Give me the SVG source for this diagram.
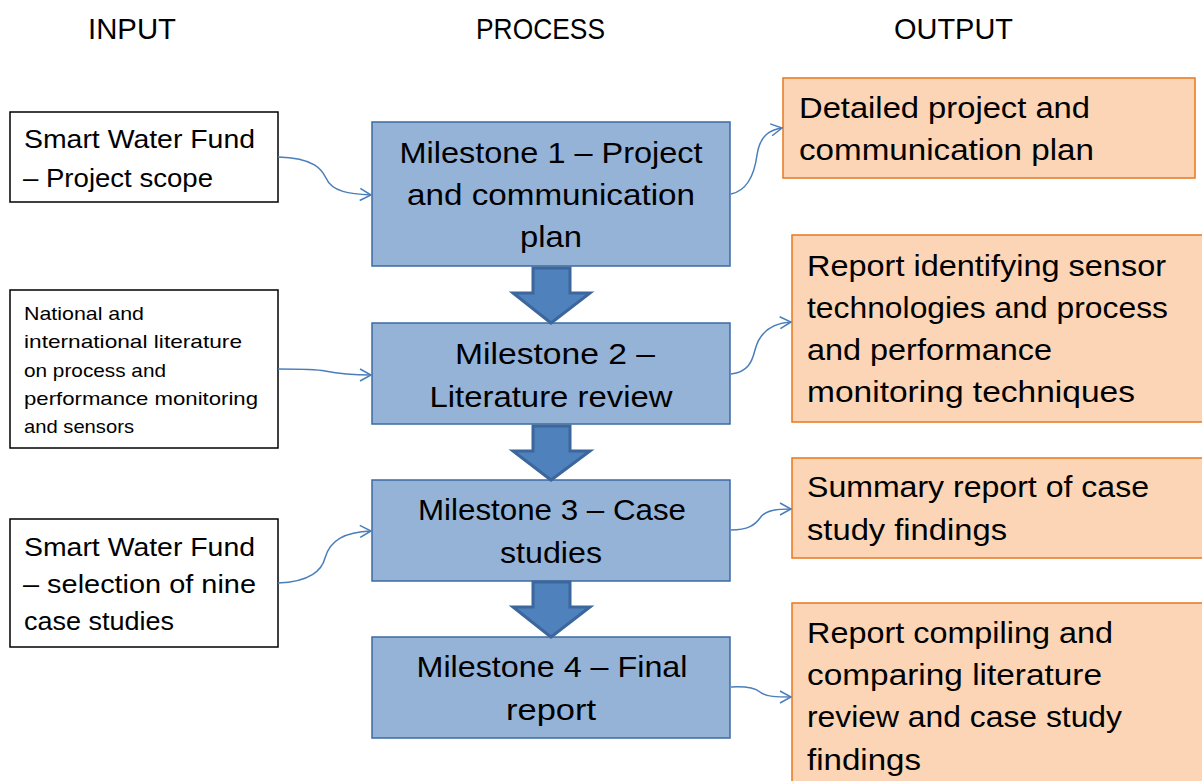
<svg xmlns="http://www.w3.org/2000/svg" width="1202" height="781" viewBox="0 0 1202 781">
  <style>
    text { font-family: "Liberation Sans", Arial, sans-serif; fill: #000; }
    .hdr { font-size: 29px; }
    .in { fill: #fff; stroke: #000; stroke-width: 1.5; }
    .in-t { font-size: 26px; }
    .in-s { font-size: 19px; }
    .ms { fill: #95b3d7; stroke: #3d6ba3; stroke-width: 1.5; }
    .ms-t { font-size: 30px; text-anchor: middle; }
    .out { fill: #fbd5b5; stroke: #e8781e; stroke-width: 1.5; }
    .out-t { font-size: 30px; }
    .flow { fill: #4f81bd; stroke: #3c679c; stroke-width: 3; stroke-linejoin: miter; }
    .link { fill: none; stroke: #4a7ebb; stroke-width: 1.5; marker-end: url(#open); }
  </style>
  <defs>
    <marker id="open" markerWidth="14" markerHeight="14" refX="12" refY="7" orient="auto" markerUnits="userSpaceOnUse">
      <path d="M1,1 L12,7 L1,13" fill="none" stroke="#4a7ebb" stroke-width="1.5"/>
    </marker>
  </defs>
  <rect width="1202" height="781" fill="#fff"/>

  <!-- column headings -->
  <g id="headings">
    <text class="hdr" x="88" y="39" textLength="88" lengthAdjust="spacingAndGlyphs">INPUT</text>
    <text class="hdr" x="476" y="39" textLength="129" lengthAdjust="spacingAndGlyphs">PROCESS</text>
    <text class="hdr" x="894" y="39" textLength="119" lengthAdjust="spacingAndGlyphs">OUTPUT</text>
  </g>

  <!-- inputs -->
  <g id="input-scope">
    <rect class="in" x="10" y="112" width="268" height="90"/>
    <text class="in-t" x="24" y="148" textLength="231" lengthAdjust="spacingAndGlyphs">Smart Water Fund</text>
    <text class="in-t" x="23" y="187" textLength="190" lengthAdjust="spacingAndGlyphs">– Project scope</text>
  </g>
  <g id="input-literature">
    <rect class="in" x="10" y="290" width="268" height="158"/>
    <text class="in-s" x="24" y="320" textLength="120" lengthAdjust="spacingAndGlyphs">National and</text>
    <text class="in-s" x="24" y="348" textLength="218" lengthAdjust="spacingAndGlyphs">international literature</text>
    <text class="in-s" x="24" y="377" textLength="142" lengthAdjust="spacingAndGlyphs">on process and</text>
    <text class="in-s" x="24" y="405" textLength="234" lengthAdjust="spacingAndGlyphs">performance monitoring</text>
    <text class="in-s" x="24" y="433" textLength="110" lengthAdjust="spacingAndGlyphs">and sensors</text>
  </g>
  <g id="input-cases">
    <rect class="in" x="10" y="519" width="268" height="128"/>
    <text class="in-t" x="24" y="556" textLength="231" lengthAdjust="spacingAndGlyphs">Smart Water Fund</text>
    <text class="in-t" x="23" y="593" textLength="233" lengthAdjust="spacingAndGlyphs">– selection of nine</text>
    <text class="in-t" x="24" y="630" textLength="150" lengthAdjust="spacingAndGlyphs">case studies</text>
  </g>

  <!-- milestones -->
  <g id="milestone-1">
    <rect class="ms" x="372" y="122" width="358" height="144"/>
    <text class="ms-t" x="551" y="163" textLength="303" lengthAdjust="spacingAndGlyphs">Milestone 1 – Project</text>
    <text class="ms-t" x="551" y="205" textLength="288" lengthAdjust="spacingAndGlyphs">and communication</text>
    <text class="ms-t" x="551" y="247" textLength="62" lengthAdjust="spacingAndGlyphs">plan</text>
  </g>
  <g id="milestone-2">
    <rect class="ms" x="372" y="323" width="358" height="101"/>
    <text class="ms-t" x="555" y="364" textLength="200" lengthAdjust="spacingAndGlyphs">Milestone 2 –</text>
    <text class="ms-t" x="551" y="407" textLength="243" lengthAdjust="spacingAndGlyphs">Literature review</text>
  </g>
  <g id="milestone-3">
    <rect class="ms" x="372" y="480" width="358" height="101"/>
    <text class="ms-t" x="552" y="520" textLength="268" lengthAdjust="spacingAndGlyphs">Milestone 3 – Case</text>
    <text class="ms-t" x="551" y="563" textLength="102" lengthAdjust="spacingAndGlyphs">studies</text>
  </g>
  <g id="milestone-4">
    <rect class="ms" x="372" y="637" width="358" height="101"/>
    <text class="ms-t" x="552" y="677" textLength="271" lengthAdjust="spacingAndGlyphs">Milestone 4 – Final</text>
    <text class="ms-t" x="551" y="720" textLength="90" lengthAdjust="spacingAndGlyphs">report</text>
  </g>

  <!-- outputs -->
  <g id="output-plan">
    <rect class="out" x="783" y="78" width="412" height="100"/>
    <text class="out-t" x="799" y="118" textLength="291" lengthAdjust="spacingAndGlyphs">Detailed project and</text>
    <text class="out-t" x="799" y="160" textLength="295" lengthAdjust="spacingAndGlyphs">communication plan</text>
  </g>
  <g id="output-sensors">
    <rect class="out" x="792" y="235" width="420" height="187"/>
    <text class="out-t" x="807" y="276" textLength="359" lengthAdjust="spacingAndGlyphs">Report identifying sensor</text>
    <text class="out-t" x="807" y="318" textLength="361" lengthAdjust="spacingAndGlyphs">technologies and process</text>
    <text class="out-t" x="807" y="360" textLength="245" lengthAdjust="spacingAndGlyphs">and performance</text>
    <text class="out-t" x="807" y="402" textLength="328" lengthAdjust="spacingAndGlyphs">monitoring techniques</text>
  </g>
  <g id="output-summary">
    <rect class="out" x="792" y="458" width="420" height="100"/>
    <text class="out-t" x="807" y="497" textLength="342" lengthAdjust="spacingAndGlyphs">Summary report of case</text>
    <text class="out-t" x="807" y="540" textLength="200" lengthAdjust="spacingAndGlyphs">study findings</text>
  </g>
  <g id="output-final">
    <rect class="out" x="792" y="603" width="420" height="190"/>
    <text class="out-t" x="807" y="643" textLength="306" lengthAdjust="spacingAndGlyphs">Report compiling and</text>
    <text class="out-t" x="807" y="685" textLength="295" lengthAdjust="spacingAndGlyphs">comparing literature</text>
    <text class="out-t" x="807" y="727" textLength="315" lengthAdjust="spacingAndGlyphs">review and case study</text>
    <text class="out-t" x="807" y="770" textLength="114" lengthAdjust="spacingAndGlyphs">findings</text>
  </g>

  <!-- connectors -->
  <g id="connectors">
    <!-- block arrows between milestones -->
    <path class="flow" d="M533,268 H570 V293 H590 L551,323 L513,293 H533 Z"/>
    <path class="flow" d="M533,426 H570 V451 H590 L551,480 L513,451 H533 Z"/>
    <path class="flow" d="M533,582 H570 V607 H590 L551,637 L513,607 H533 Z"/>
    <!-- inputs to milestones -->
    <path class="link" d="M278,157 C315,158 322,170 326,178 C332,192 350,194 371,195"/>
    <path class="link" d="M278,369 C300,369 315,369 325,371 C340,374 355,375 371,375"/>
    <path class="link" d="M278,583 C310,582 322,570 325,558 C330,540 345,532 371,531"/>
    <!-- milestones to outputs -->
    <path class="link" d="M731,194 C750,190 755,170 757,155 C760,135 770,130 782,128"/>
    <path class="link" d="M731,374 C748,372 752,362 755,350 C760,330 775,323 791,322"/>
    <path class="link" d="M731,530 C748,530 755,525 760,518 C765,510 778,509 791,509"/>
    <path class="link" d="M731,687 C748,686 755,688 760,692 C766,697 778,697 791,697"/>
  </g>
</svg>
